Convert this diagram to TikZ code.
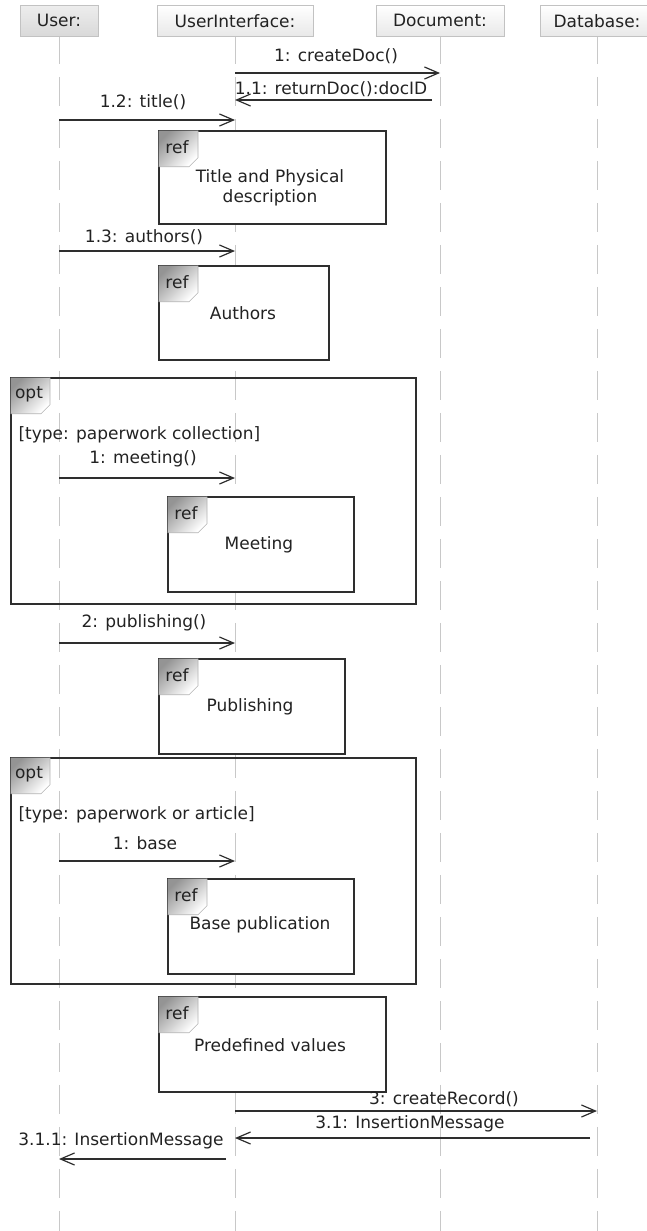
\documentclass[tikz,border=0pt]{standalone}
\usepackage{fontspec}
\setmainfont{DejaVu Sans}
\usetikzlibrary{arrows.meta,calc}
\definecolor{lifec}{HTML}{C8C8C8}
\definecolor{linec}{HTML}{2E2E2E}
\definecolor{headb}{HTML}{C2C2C2}
\definecolor{txtc}{HTML}{222222}
\newcommand\mkTag[3]{%
  \shade[top color=black!42, bottom color=white, shading angle=45]
    ($(#1)+(0.7,0.7)$) -- ++(39.3,0) -- ++(0,27) -- ++(-9,9) -- ++(-30.3,0) -- cycle;
  \draw[black!30, line width=0.6pt] ($(#1)+(40,0.7)$) -- ++(0,27) -- ++(-9,9) -- ++(-30.3,0);
  \node (#3) at ($(#1)+(19,17)$) {#2};}
\begin{document}
\begin{tikzpicture}[x=1pt,y=-1pt,
  every node/.style={font=\fontsize{17}{19.5}\selectfont, text=txtc},
  head/.style={draw=headb, line width=0.8pt, minimum height=31pt, inner sep=0pt, anchor=north},
  headA/.style={head, top color=black!7, bottom color=black!15},
  headB/.style={head, top color=white, bottom color=black!9},
  life/.style={draw=lifec, line width=1pt, dash pattern=on 29pt off 13pt, dash phase=2pt},
  msg/.style={draw=linec, line width=1.4pt, -{Straight Barb[length=14pt,width=12pt,line width=1.2pt]}},
  framebox/.style={draw=linec, line width=1.5pt, inner sep=0pt, anchor=north west},
  refbox/.style={framebox, fill=white},
  inner/.style={align=center}
]
\useasboundingbox (0,0) rectangle (647,1231);

% heads
\node[headA, minimum width=78pt]  (user) at (59,5)  {User:};
\node[headB, minimum width=156pt] (ui)   at (235,5) {UserInterface:};
\node[headB, minimum width=128pt] (doc)  at (440,5) {Document:};
\node[headB, minimum width=114pt] (db)   at (597,5) {Database:};

% lifelines
\coordinate (userEnd) at (59,1231);
\coordinate (uiEnd) at (235,1231);
\coordinate (docEnd) at (440,1231);
\coordinate (dbEnd) at (597,1231);
\draw[life] (user.south) -- (userEnd);
\draw[life] (ui.south) -- (uiEnd);
\draw[life] (doc.south) -- (docEnd);
\draw[life] (db.south) -- (dbEnd);

% opt frames
\node[framebox, minimum width=405pt, minimum height=226pt] (opt1) at (10,377) {};
\mkTag{opt1.north west}{opt}{opt1tag}
\node[anchor=west] (g1) at (15,435) {[type: paperwork collection]};
\node[framebox, minimum width=405pt, minimum height=226pt] (opt2) at (10,757) {};
\mkTag{opt2.north west}{opt}{opt2tag}
\node[anchor=west] (g2) at (15,815) {[type: paperwork or article]};

% ref boxes
\node[refbox, minimum width=227pt, minimum height=93pt] (r1) at (158,130) {};
\mkTag{r1.north west}{ref}{r1tag}
\node[inner] (r1t) at (270,188) {Title and Physical\\description};

\node[refbox, minimum width=170pt, minimum height=94pt] (r2) at (158,265) {};
\mkTag{r2.north west}{ref}{r2tag}
\node (r2t) at (243,313) {Authors};

\node[refbox, minimum width=186pt, minimum height=95pt] (r3) at (167,496) {};
\mkTag{r3.north west}{ref}{r3tag}
\node (r3t) at (259,545) {Meeting};

\node[refbox, minimum width=186pt, minimum height=95pt] (r4) at (158,658) {};
\mkTag{r4.north west}{ref}{r4tag}
\node (r4t) at (250,707) {Publishing};

\node[refbox, minimum width=186pt, minimum height=95pt] (r5) at (167,878) {};
\mkTag{r5.north west}{ref}{r5tag}
\node (r5t) at (260,925) {Base publication};

\node[refbox, minimum width=227pt, minimum height=95pt] (r6) at (158,996) {};
\mkTag{r6.north west}{ref}{r6tag}
\node (r6t) at (270,1045) {Predefined values};

% messages
\coordinate (a1) at (235,73);  \coordinate (b1) at (440,73);
\draw[msg] (a1) -- (b1);
\node (l1) at (336,56) {1: createDoc()};

\coordinate (a2) at (432,100); \coordinate (b2) at (235,100);
\draw[msg] (a2) -- (b2);
\node (l2) at (331,89) {1.1: returnDoc():docID};

\coordinate (a3) at (59,120);  \coordinate (b3) at (235,120);
\draw[msg] (a3) -- (b3);
\node (l3) at (143,102) {1.2: title()};

\coordinate (a4) at (59,251);  \coordinate (b4) at (235,251);
\draw[msg] (a4) -- (b4);
\node (l4) at (144,237) {1.3: authors()};

\coordinate (a5) at (59,478);  \coordinate (b5) at (235,478);
\draw[msg] (a5) -- (b5);
\node (l5) at (143,459) {1: meeting()};

\coordinate (a6) at (59,643);  \coordinate (b6) at (235,643);
\draw[msg] (a6) -- (b6);
\node (l6) at (144,623) {2: publishing()};

\coordinate (a7) at (59,861);  \coordinate (b7) at (235,861);
\draw[msg] (a7) -- (b7);
\node (l7) at (145,843) {1: base};

\coordinate (a8) at (235,1111); \coordinate (b8) at (597,1111);
\draw[msg] (a8) -- (b8);
\node (l8) at (444,1099) {3: createRecord()};

\coordinate (a9) at (590,1138); \coordinate (b9) at (235,1138);
\draw[msg] (a9) -- (b9);
\node (l9) at (410,1124) {3.1: InsertionMessage};

\coordinate (a10) at (226,1159); \coordinate (b10) at (59,1159);
\draw[msg] (a10) -- (b10);
\node (l10) at (121,1141) {3.1.1: InsertionMessage};
\end{tikzpicture}
\end{document}
